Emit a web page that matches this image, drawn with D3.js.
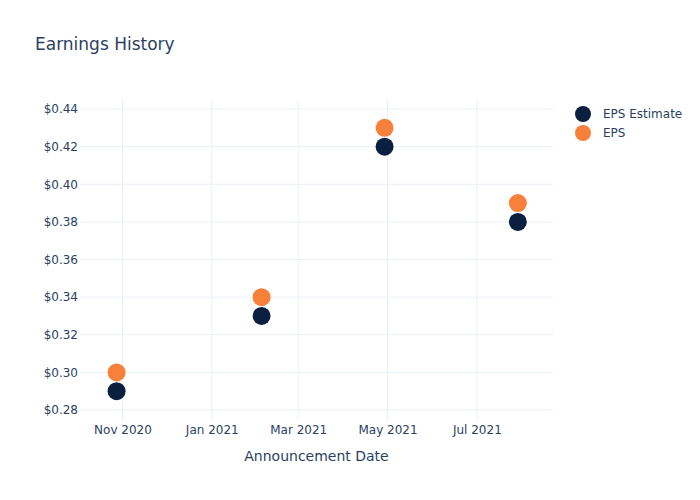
<!DOCTYPE html>
<meta charset="utf-8">
<script src="https://d3js.org/d3.v7.min.js"></script>
<style>
  body { margin: 0; background: #fff; }
  text { font-family: "DejaVu Sans", sans-serif; fill: #2a3f5f; }
</style>
<div id="chart"></div>
<script>
// data
var dates = ["2020-10-28", "2021-02-04", "2021-04-29", "2021-07-29"];
var epsEstimate = [0.29, 0.33, 0.42, 0.38];
var eps = [0.30, 0.34, 0.43, 0.39];
var yTicks = [0.28, 0.30, 0.32, 0.34, 0.36, 0.38, 0.40, 0.42, 0.44];
var xTicks = ["2020-11-01", "2021-01-01", "2021-03-01", "2021-05-01", "2021-07-01"];
var seriesNames = ["EPS Estimate", "EPS"];
var colors = ["#0b1f40", "#f7813a"];

var parse = d3.timeParse("%Y-%m-%d");
var margin = {top: 100, right: 147, bottom: 80, left: 80},
    width = 700 - margin.left - margin.right,
    height = 500 - margin.top - margin.bottom;

var svg = d3.select("#chart")
  .append("svg")
  .attr("width", 700)
  .attr("height", 500);

var g = svg.append("g")
  .attr("transform", `translate(${margin.left},${margin.top})`);

var x = d3.scaleTime()
  .domain([parse("2020-10-03"), parse("2021-08-22")])
  .range([0, width]);

var y = d3.scaleLinear()
  .domain([0.2747, 0.4448])
  .range([height, 0]);

// grid
g.append("g")
  .selectAll("line")
  .data(xTicks.map(parse))
  .join("line")
  .attr("x1", d => x(d)).attr("x2", d => x(d))
  .attr("y1", 0).attr("y2", height)
  .attr("stroke", "#ebf0f8");

g.append("g")
  .selectAll("line")
  .data(yTicks)
  .join("line")
  .attr("x1", 0).attr("x2", width)
  .attr("y1", d => y(d)).attr("y2", d => y(d))
  .attr("stroke", "#ebf0f8");

// axes (labels only, plotly style)
var xAxis = g.append("g")
  .attr("transform", `translate(0,${height})`)
  .call(d3.axisBottom(x).tickValues(xTicks.map(parse)).tickFormat(d3.timeFormat("%b %Y")).tickSize(0).tickPadding(5));
xAxis.select(".domain").remove();
xAxis.selectAll("text").style("font-size", "12px").attr("fill", "#2a3f5f");

var yAxis = g.append("g")
  .call(d3.axisLeft(y).tickValues(yTicks).tickFormat(d => "$" + d.toFixed(2)).tickSize(0).tickPadding(2));
yAxis.select(".domain").remove();
yAxis.selectAll("text").style("font-size", "12px").attr("fill", "#2a3f5f");

// points
[epsEstimate, eps].forEach(function(vals, i) {
  g.append("g")
    .selectAll("circle")
    .data(vals)
    .join("circle")
    .attr("cx", (d, j) => x(parse(dates[j])))
    .attr("cy", d => y(d))
    .attr("r", 9)
    .attr("fill", colors[i]);
});

// title
svg.append("text")
  .attr("x", 35).attr("y", 50)
  .style("font-size", "17px")
  .text("Earnings History");

svg.append("text")
  .attr("x", margin.left + width / 2).attr("y", 461)
  .attr("text-anchor", "middle")
  .style("font-size", "14px")
  .text("Announcement Date");

// legend
var legend = svg.append("g")
  .selectAll("g")
  .data(seriesNames)
  .join("g")
  .attr("transform", (d, i) => `translate(583,${114 + i * 19})`);
legend.append("circle").attr("r", 8).attr("fill", (d, i) => colors[i]);
legend.append("text")
  .attr("x", 20).attr("dy", "0.35em")
  .style("font-size", "12px")
  .text(d => d);
</script>
